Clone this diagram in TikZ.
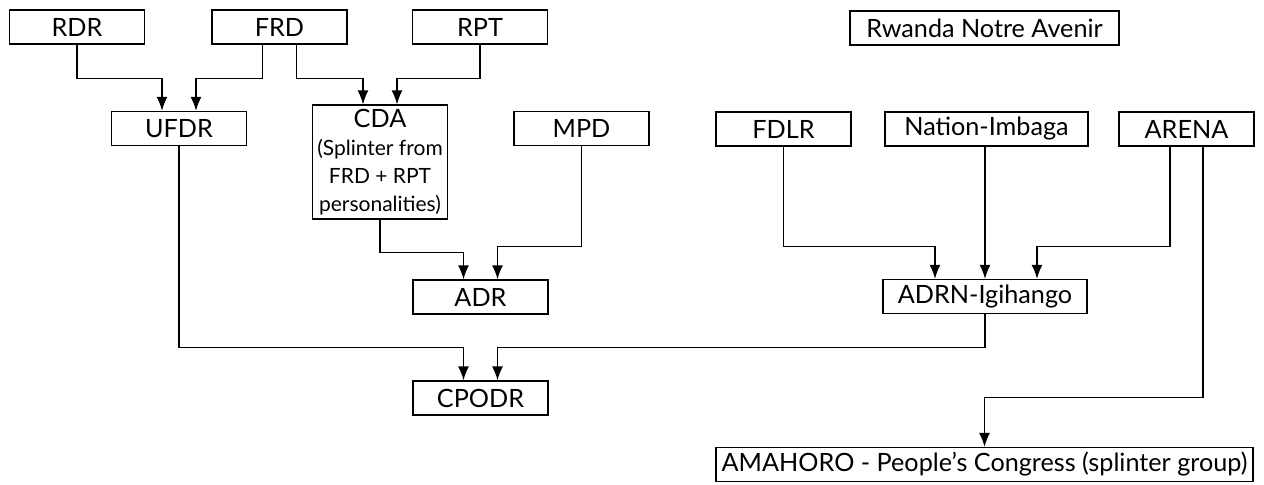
\documentclass[tikz,border=0pt]{standalone}
\usepackage{fontspec}
\setmainfont{Lato}
\usetikzlibrary{arrows.meta}
\newcommand\smalltxt{\fontsize{10.5}{12}\selectfont}
\begin{document}
\begin{tikzpicture}[
  x=0.5pt, y=-0.5pt,
  every node/.style={draw, line width=0.7pt, minimum height=17pt, inner sep=2pt,
    font=\fontsize{12.6}{14}\selectfont},
  party/.style={minimum width=67.5pt},
  link/.style={draw, line width=0.7pt, -{Latex[length=7pt,width=5.5pt]}}
]
\useasboundingbox (0,0) rectangle (1264,484);
\node[party] (rdr) at (77,27) {RDR};
\node[party] (frd) at (279.5,27) {FRD};
\node[party] (rpt) at (480,27) {RPT};
\node[minimum width=134.5pt] (rna) at (984.5,28) {Rwanda Notre Avenir};
\node[party] (ufdr) at (179,128.5) {UFDR};
\node[party, minimum height=51pt, align=center] (cda) at (380,162)
  {CDA\\{\smalltxt (Splinter from}\\{\smalltxt FRD + RPT}\\{\smalltxt personalities)}};
\node[party] (mpd) at (581.5,128.5) {MPD};
\node[party] (fdlr) at (783.5,129) {FDLR};
\node[minimum width=101.5pt] (nation) at (986.5,129) {Nation-Imbaga};
\node[party] (arena) at (1186.5,129) {ARENA};
\node[party] (adr) at (480.5,297) {ADR};
\node[minimum width=102pt] (adrn) at (985,296.5) {ADRN-Igihango};
\node[party] (cpodr) at (480.5,398) {CPODR};
\node[minimum width=268.5pt] (amahoro) at (984.5,464.5)
  {AMAHORO - People's Congress (splinter group)};
\draw[link] (rdr.south) -- ++(0,34) -| ([xshift=-8.5pt]ufdr.north);
\draw[link] ([xshift=-8.5pt]frd.south) -- ++(0,34) -| ([xshift=8.5pt]ufdr.north);
\draw[link] ([xshift=8.5pt]frd.south) -- ++(0,34) -| ([xshift=-8.5pt]cda.north);
\draw[link] (rpt.south) -- ++(0,34) -| ([xshift=8.5pt]cda.north);
\draw[link] (cda.south) -- ++(0,33) -| ([xshift=-8.5pt]adr.north);
\draw[link] (mpd.south) -- ++(0,100) -| ([xshift=8.5pt]adr.north);
\draw[link] (fdlr.south) -- ++(0,100) -| ([xshift=-25pt]adrn.north);
\draw[link] (adrn.north |- nation.south) -- (adrn.north);
\draw[link] ([xshift=-8.25pt]arena.south) -- ++(0,100) -| ([xshift=26pt]adrn.north);
\draw[link] (ufdr.south) -- ++(0,201) -| ([xshift=-8.5pt]cpodr.north);
\draw[link] (adrn.south) -- ++(0,33) -| ([xshift=8.5pt]cpodr.north);
\draw[link] ([xshift=8.25pt]arena.south) -- ++(0,251) -| (amahoro.north);
\end{tikzpicture}
\end{document}
